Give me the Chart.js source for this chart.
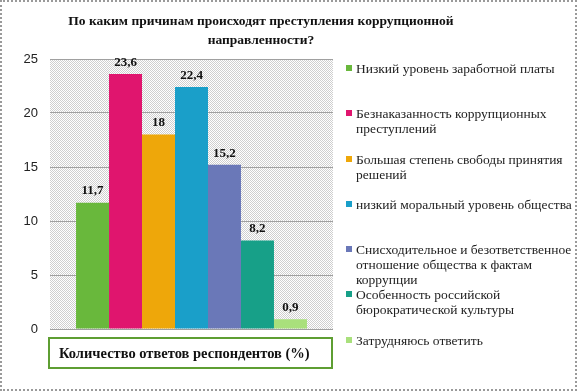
<!DOCTYPE html>
<html>
<head>
<meta charset="utf-8">
<script src="https://cdn.jsdelivr.net/npm/chart.js@4"></script>
<style>
    body { margin: 0; background: #fff; }
    #wrap { position: relative; width: 577px; height: 391px; overflow: hidden; }
    #frame { position: absolute; left: 0; top: 0; width: 577px; height: 391px; box-sizing: border-box; border: 2px dotted #9a9a9a; pointer-events: none; }
    #title { position: absolute; left: 40px; top: 11px; width: 442px; text-align: center; font: bold 13.5px "Liberation Serif", serif; line-height: 19px; color: #111; }
    #legend { position: absolute; left: 346px; top: 61px; width: 230px; font: 13.5px "Liberation Serif", serif; color: #222; }
    .item { position: relative; height: 45.3px; padding-left: 10px; line-height: 15px; }
    .item i { position: absolute; left: 0; top: 4px; width: 6px; height: 6px; }
    #xbox { position: absolute; left: 48px; top: 337px; width: 285px; height: 32px; box-sizing: border-box; border: 2px solid #5e9e32; font: bold 14.5px "Liberation Serif", serif; line-height: 28px; padding-left: 9px; color: #111; }
</style>
</head>
<body>
<div id="wrap">
    <canvas id="chart" width="577" height="391"></canvas>
    <div id="title">По каким причинам происходят преступления коррупционной направленности?</div>
    <div id="legend"></div>
    <div id="xbox">Количество ответов респондентов (%)</div>
    <div id="frame"></div>
</div>
<script>
const reasons = [
    'Низкий уровень заработной платы',
    'Безнаказанность коррупционных преступлений',
    'Большая степень свободы принятия решений',
    'низкий моральный уровень общества',
    'Снисходительное и безответственное отношение общества к фактам коррупции',
    'Особенность российской бюрократической культуры',
    'Затрудняюсь ответить'
]
const percents = [11.7, 23.6, 18, 22.4, 15.2, 8.2, 0.9]
const barColors = ['#69b83c', '#e0156e', '#eea70a', '#1a9fc9', '#6a78b8', '#17a088', '#a9e07c']
const yTicks = [0, 5, 10, 15, 20, 25]

// dotted grey background of the plot
function makePattern() {
    const c = document.createElement('canvas')
    c.width = 2
    c.height = 2
    const g = c.getContext('2d')
    g.fillStyle = '#ffffff'
    g.fillRect(0, 0, 2, 2)
    g.fillStyle = '#cfcfcf'
    g.fillRect(0, 0, 1, 1)
    g.fillRect(1, 1, 1, 1)
    return g.createPattern(c, 'repeat')
}

const plotBackground = {
    id: 'plotBackground',
    beforeDraw(chart) {
        const { ctx, chartArea: a } = chart
        ctx.save()
        ctx.fillStyle = makePattern()
        ctx.fillRect(a.left, a.top, a.right - a.left, a.bottom - a.top)
        ctx.restore()
    }
}

const valueLabels = {
    id: 'valueLabels',
    afterDatasetsDraw(chart) {
        const ctx = chart.ctx
        ctx.save()
        ctx.font = 'bold 13px "Liberation Serif", serif'
        ctx.fillStyle = '#111'
        ctx.textAlign = 'center'
        ctx.textBaseline = 'bottom'
        chart.data.datasets.forEach((ds, i) => {
            const bar = chart.getDatasetMeta(i).data[0]
            ctx.fillText(String(ds.data[0]).replace('.', ','), bar.x, bar.y - 5)
        })
        ctx.restore()
    }
}

const ctx = document.querySelector('#chart').getContext('2d')
const chart = new Chart(ctx, {
    type: 'bar',
    data: {
        labels: [''],
        datasets: reasons.map((r, i) => ({
            label: r,
            data: [percents[i]],
            backgroundColor: barColors[i],
            borderWidth: 0
        }))
    },
    options: {
        responsive: false,
        animation: false,
        categoryPercentage: 0.816,
        barPercentage: 1,
        layout: {
            padding: { left: 0, top: 59, right: 244, bottom: 62 }
        },
        scales: {
            x: {
                ticks: { display: false },
                grid: { display: false },
                border: { display: false },
                afterFit(scale) { scale.height = 0 }
            },
            y: {
                min: 0,
                max: 25,
                afterBuildTicks(scale) { scale.ticks = yTicks.map(v => ({ value: v })) },
                ticks: {
                    padding: 12,
                    color: '#222',
                    font: { family: '"Liberation Sans", Arial', size: 13 }
                },
                grid: { color: '#a0a0a0', drawTicks: false },
                border: { display: false },
                afterFit(scale) { scale.width = 50 }
            }
        },
        plugins: {
            legend: { display: false },
            tooltip: { enabled: false }
        }
    },
    plugins: [plotBackground, valueLabels]
})

// legend on the right, built from the datasets
const legend = document.querySelector('#legend')
chart.data.datasets.forEach(ds => {
    const item = document.createElement('div')
    item.className = 'item'
    item.innerHTML = '<i style="background:' + ds.backgroundColor + '"></i>' + ds.label
    legend.appendChild(item)
})
</script>
</body>
</html>
